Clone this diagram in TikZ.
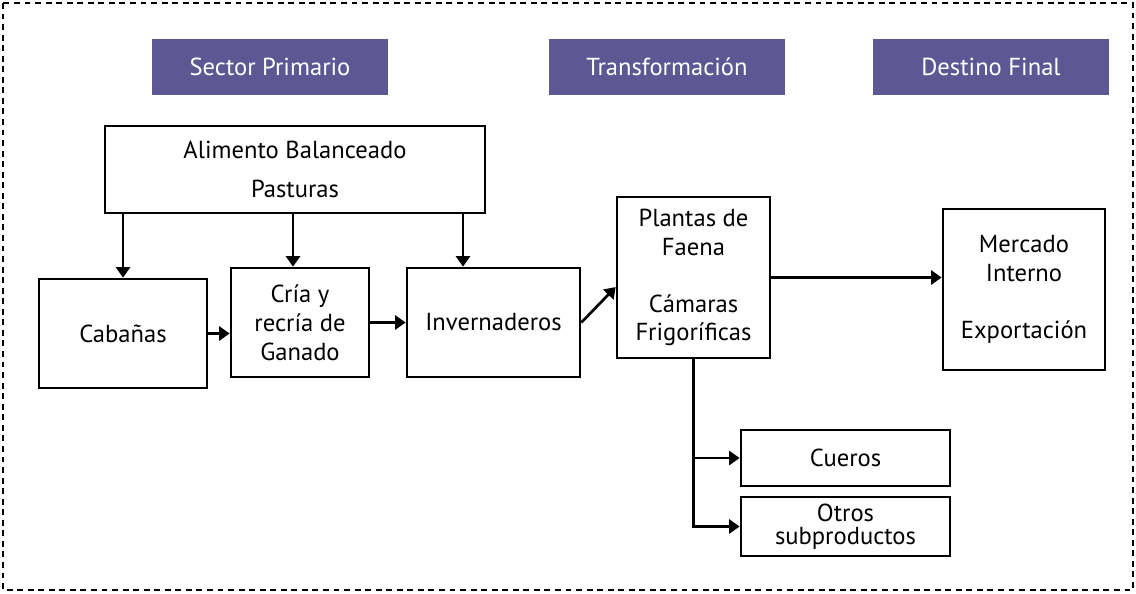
\documentclass[tikz,border=0pt]{standalone}
\usepackage{fontspec}
\setmainfont{PT Sans}
\usepackage{tikz}
\usetikzlibrary{arrows.meta}
\definecolor{headpurple}{HTML}{5D5893}

\begin{document}
\begin{tikzpicture}[x=0.025cm, y=-0.025cm,
    every node/.style={font=\fontsize{17.5}{20.5}\selectfont, align=center, inner sep=0pt},
    box/.style={draw, line width=1.9pt, rectangle},
    header/.style={fill=headpurple, text=white, minimum width=5.9cm, minimum height=1.4cm},
    arr/.style={line width=1.9pt, -{Triangle[width=10pt, length=7.5pt]}}]
    \useasboundingbox (0,0) rectangle (1136,593);
    \draw [line width=1.9pt, dash pattern=on 4.2pt off 3.3pt] (3,3) rectangle (1133,590);
    \node [header] (sector) at (270,67) {Sector Primario};
    \node [header] (transf) at (667,67) {Transformación};
    \node [header] (destino) at (991,67) {Destino Final};
    \node [box, minimum width=9.5cm, minimum height=2.175cm] (alim) at (295,169.5) {Alimento Balanceado\\[7pt]Pasturas};
    \node [box, minimum width=4.2cm, minimum height=2.725cm] (cab) at (123,333.5) {Cabañas};
    \node [box, minimum width=3.45cm, minimum height=2.725cm] (cria) at (300,322.5) {Cría y\\recría de\\Ganado};
    \node [box, minimum width=4.325cm, minimum height=2.725cm] (inv) at (493.5,322.5) {Invernaderos};
    \node [box, minimum width=3.825cm, minimum height=4.025cm] (plan) at (693.5,277.5) {Plantas de\\Faena\\[20pt]Cámaras\\Frigoríficas};
    \node [box, minimum width=4.05cm, minimum height=4.025cm] (merc) at (1024,289.5) {Mercado\\Interno\\[20pt]Exportación};
    \node [box, minimum width=5.225cm, minimum height=1.4cm] (cue) at (845.5,458) {Cueros};
    \node [box, minimum width=5.225cm, minimum height=1.475cm] (otr) at (845.5,526.5) {Otros\\[-4pt]subproductos};
    \coordinate (c2) at (293,0);
    \coordinate (c3) at (463,0);
    \draw [arr] (alim.south -| cab) -- (cab.north);
    \draw [arr] (alim.south -| c2) -- (cria.north -| c2);
    \draw [arr] (alim.south -| c3) -- (inv.north -| c3);
    \draw [arr] (cab.east) -- (cria.west |- cab.east);
    \draw [arr] (cria.east) -- (inv.west);
    \draw [arr] (inv.east) -- (plan.187);
    \draw [arr] (plan.east) -- (merc.west |- plan.east);
    \draw [arr] (plan.south) |- (cue.west);
    \draw [arr] (plan.south) |- (otr.west);
  \end{tikzpicture}
\end{document}
